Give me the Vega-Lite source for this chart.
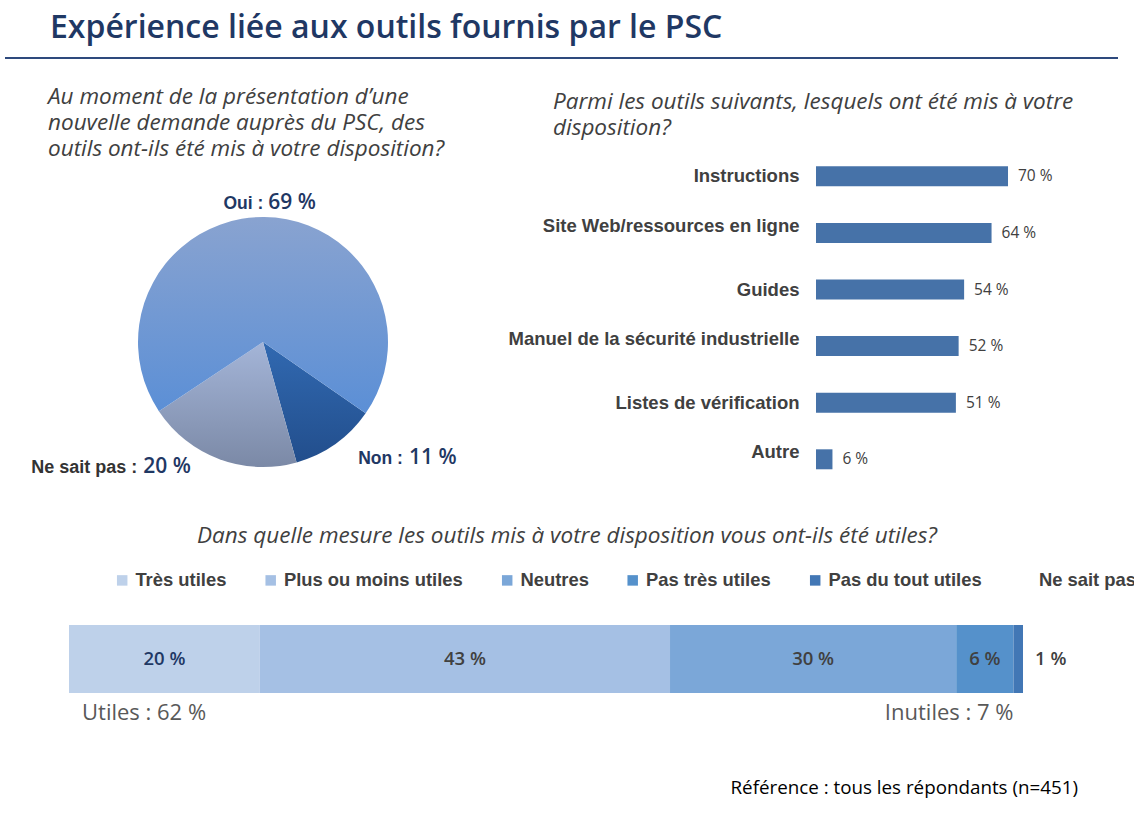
{
  "$schema": "https://vega.github.io/schema/vega-lite/v6.json",
  "padding": {"left": 0, "top": 12, "right": 0, "bottom": 0},
  "background": "white",
  "bounds": "flush",
  "align": "none",
  "columns": 2,
  "spacing": {"row": 89, "column": 290},
  "resolve": {"scale": {"color": "independent"}, "legend": {"color": "independent"}},
  "config": {"view": {"stroke": null}, "font": "Open Sans"},
  "concat": [
    {
      "width": 526,
      "height": 2,
      "title": {"text": "Expérience liée aux outils fournis par le PSC", "anchor": "start", "frame": "group", "dx": 50, "offset": 12, "fontSize": 32, "font": "Open Sans", "fontWeight": 600, "color": "#1F3864"},
      "data": {"values": [{}]},
      "mark": {"type": "rule", "color": "#2E4A7D", "strokeWidth": 2},
      "encoding": {
        "x": {"datum": 0, "type": "quantitative", "axis": null, "scale": {"domain": [0, 1], "range": [5, 1118], "nice": false}},
        "x2": {"datum": 1},
        "y": {"value": 1}
      }
    },
    {
      "width": 1,
      "height": 2,
      "data": {"values": [{}]},
      "mark": "text",
      "encoding": {"text": {"value": ""}}
    },
    {
      "width": 526,
      "height": 388,
      "title": {"text": ["Au moment de la présentation d’une", "nouvelle demande auprès du PSC, des", "outils ont-ils été mis à votre disposition?"], "anchor": "start", "frame": "group", "dx": 48, "offset": -12, "fontSize": 22.5, "font": "Open Sans", "fontStyle": "italic", "fontWeight": "normal", "color": "#404040", "lineHeight": 26},
      "data": {"values": [
        {"k": "Non", "v": 11, "i": 1, "n": "Non :", "p": "11 %"},
        {"k": "Ne sait pas", "v": 20, "i": 2, "n": "Ne sait pas :", "p": "20 %"},
        {"k": "Oui", "v": 69, "i": 3, "n": "Oui :", "p": "69 %"}
      ]},
      "transform": [{"stack": "v", "groupby": [], "sort": [{"field": "i", "order": "ascending"}], "as": ["v0", "v1"]}],
      "layer": [
        {
          "mark": {"type": "arc", "outerRadius": 125},
          "encoding": {
            "theta": {"field": "v0", "type": "quantitative", "stack": null, "scale": {"domain": [0, 100], "range": [2.178, 8.461]}},
            "theta2": {"field": "v1"},
            "fill": {
              "condition": [
                {"test": "datum.k === 'Oui'", "value": {"gradient": "linear", "x1": 0, "y1": 0, "x2": 0, "y2": 1, "stops": [{"offset": 0, "color": "#89A3D0"}, {"offset": 1, "color": "#5B8FD6"}]}},
                {"test": "datum.k === 'Non'", "value": {"gradient": "linear", "x1": 0, "y1": 0, "x2": 0, "y2": 1, "stops": [{"offset": 0, "color": "#3169B1"}, {"offset": 1, "color": "#224E8C"}]}}
              ],
              "value": {"gradient": "linear", "x1": 0, "y1": 0, "x2": 0, "y2": 1, "stops": [{"offset": 0, "color": "#A4B5D8"}, {"offset": 1, "color": "#7B89A6"}]}
            }
          }
        },
        {
          "transform": [{"fold": ["v0", "v1"], "as": ["w", "pos"]}, {"aggregate": [{"op": "mean", "field": "pos", "as": "mid"}], "groupby": ["k", "n", "p"]}, {"filter": "datum.k === 'Oui'"}],
          "mark": {"type": "text", "radius": 133, "align": "right", "baseline": "alphabetic", "dx": -1, "font": "Liberation Sans", "fontWeight": "bold", "fontSize": 17.5, "color": "#1F3864"},
          "encoding": {"theta": {"field": "mid", "type": "quantitative", "stack": null}, "text": {"field": "n"}}
        },
        {
          "transform": [{"fold": ["v0", "v1"], "as": ["w", "pos"]}, {"aggregate": [{"op": "mean", "field": "pos", "as": "mid"}], "groupby": ["k", "n", "p"]}, {"filter": "datum.k === 'Oui'"}],
          "mark": {"type": "text", "radius": 133, "align": "left", "baseline": "alphabetic", "dx": 4, "font": "Open Sans", "fontWeight": 600, "fontSize": 21, "color": "#1F3864"},
          "encoding": {"theta": {"field": "mid", "type": "quantitative", "stack": null}, "text": {"field": "p"}}
        },
        {
          "transform": [{"fold": ["v0", "v1"], "as": ["w", "pos"]}, {"aggregate": [{"op": "mean", "field": "pos", "as": "mid"}], "groupby": ["k", "n", "p"]}, {"filter": "datum.k === 'Non'"}],
          "mark": {"type": "text", "radius": 150, "align": "right", "baseline": "alphabetic", "dx": 53, "font": "Liberation Sans", "fontWeight": "bold", "fontSize": 17.5, "color": "#1F3864"},
          "encoding": {"theta": {"field": "mid", "type": "quantitative", "stack": null}, "text": {"field": "n"}}
        },
        {
          "transform": [{"fold": ["v0", "v1"], "as": ["w", "pos"]}, {"aggregate": [{"op": "mean", "field": "pos", "as": "mid"}], "groupby": ["k", "n", "p"]}, {"filter": "datum.k === 'Non'"}],
          "mark": {"type": "text", "radius": 150, "align": "left", "baseline": "alphabetic", "dx": 59, "font": "Open Sans", "fontWeight": 600, "fontSize": 21, "color": "#1F3864"},
          "encoding": {"theta": {"field": "mid", "type": "quantitative", "stack": null}, "text": {"field": "p"}}
        },
        {
          "transform": [{"fold": ["v0", "v1"], "as": ["w", "pos"]}, {"aggregate": [{"op": "mean", "field": "pos", "as": "mid"}], "groupby": ["k", "n", "p"]}, {"filter": "datum.k === 'Ne sait pas'"}],
          "mark": {"type": "text", "radius": 140, "align": "right", "baseline": "alphabetic", "dx": -77, "font": "Liberation Sans", "fontWeight": "bold", "fontSize": 18, "color": "#333333"},
          "encoding": {"theta": {"field": "mid", "type": "quantitative", "stack": null}, "text": {"field": "n"}}
        },
        {
          "transform": [{"fold": ["v0", "v1"], "as": ["w", "pos"]}, {"aggregate": [{"op": "mean", "field": "pos", "as": "mid"}], "groupby": ["k", "n", "p"]}, {"filter": "datum.k === 'Ne sait pas'"}],
          "mark": {"type": "text", "radius": 140, "align": "left", "baseline": "alphabetic", "dx": -71, "font": "Open Sans", "fontWeight": 600, "fontSize": 21, "color": "#1F3864"},
          "encoding": {"theta": {"field": "mid", "type": "quantitative", "stack": null}, "text": {"field": "p"}}
        }
      ]
    },
    {
      "width": 274.3,
      "height": 339.6,
      "title": {"text": ["Parmi les outils suivants, lesquels ont été mis à votre", "disposition?"], "anchor": "start", "frame": "group", "dx": -263, "offset": 9, "fontSize": 22.5, "font": "Open Sans", "fontStyle": "italic", "fontWeight": "normal", "color": "#404040", "lineHeight": 26},
      "data": {"values": [
        {"o": "Instructions", "v": 70, "t": "70 %"},
        {"o": "Site Web/ressources en ligne", "v": 64, "t": "64 %"},
        {"o": "Guides", "v": 54, "t": "54 %"},
        {"o": "Manuel de la sécurité industrielle", "v": 52, "t": "52 %"},
        {"o": "Listes de vérification", "v": 51, "t": "51 %"},
        {"o": "Autre", "v": 6, "t": "6 %"}
      ]},
      "encoding": {
        "y": {"field": "o", "type": "nominal", "sort": null, "scale": {"paddingInner": 0.647, "paddingOuter": 0.3235},
          "axis": {"title": null, "domain": false, "ticks": false, "labelFont": "Liberation Sans", "labelFontWeight": "bold", "labelFontSize": 18.5, "labelColor": "#404040", "labelPadding": 17, "labelLimit": 400,
            "labelOffset": {"condition": {"test": "indexof(['Site Web/ressources en ligne', 'Manuel de la sécurité industrielle', 'Autre'], datum.value) >= 0", "value": -7}, "value": 0}}},
        "x": {"field": "v", "type": "quantitative", "scale": {"domain": [0, 100], "nice": false}, "axis": null}
      },
      "layer": [
        {"mark": {"type": "bar", "color": "#4672A8"}},
        {"mark": {"type": "text", "align": "left", "baseline": "middle", "dx": 10, "font": "Open Sans", "fontSize": 15.5, "color": "#404040"}, "encoding": {"text": {"field": "t"}}}
      ]
    },
    {
      "width": 526,
      "height": 68,
      "title": {"text": "Dans quelle mesure les outils mis à votre disposition vous ont-ils été utiles?", "anchor": "middle", "frame": "group", "dx": 304, "offset": 24, "fontSize": 22.5, "font": "Open Sans", "fontStyle": "italic", "fontWeight": "normal", "color": "#404040"},
      "data": {"values": [
        {"c": "Très utiles", "v": 20, "i": 1, "t": "20 %"},
        {"c": "Plus ou moins utiles", "v": 43, "i": 2, "t": "43 %"},
        {"c": "Neutres", "v": 30, "i": 3, "t": "30 %"},
        {"c": "Pas très utiles", "v": 6, "i": 4, "t": "6 %"},
        {"c": "Pas du tout utiles", "v": 1, "i": 5, "t": "1 %"},
        {"c": "Ne sait pas", "v": 0, "i": 6, "t": ""}
      ]},
      "transform": [{"stack": "v", "groupby": [], "sort": [{"field": "i", "order": "ascending"}], "as": ["v0", "v1"]}],
      "encoding": {
        "y": {"datum": "u", "type": "nominal", "scale": {"paddingInner": 0, "paddingOuter": 0}, "axis": null}
      },
      "layer": [
        {
          "mark": {"type": "bar"},
          "encoding": {
            "x": {"field": "v0", "type": "quantitative", "scale": {"domain": [0, 100], "range": [69, 1023], "nice": false}, "axis": null},
            "x2": {"field": "v1"},
            "color": {"field": "c", "type": "nominal",
              "scale": {"domain": ["Très utiles", "Plus ou moins utiles", "Neutres", "Pas très utiles", "Pas du tout utiles", "Ne sait pas"], "range": ["#BED1EA", "#A5C0E4", "#7BA7D8", "#5591CB", "#4277B5", "#FFFFFF"]},
              "legend": {"orient": "none", "legendX": 113, "legendY": -54, "direction": "horizontal", "columns": 6, "title": null, "symbolType": "square", "symbolSize": 110, "symbolStrokeWidth": 0, "labelFont": "Liberation Sans", "labelFontWeight": "bold", "labelFontSize": 18.4, "labelColor": "#404040", "labelOffset": 4, "columnPadding": 34.5, "labelLimit": 300}}
          }
        },
        {
          "transform": [{"filter": "datum.i <= 4"}, {"fold": ["v0", "v1"], "as": ["w", "pos"]}, {"aggregate": [{"op": "mean", "field": "pos", "as": "mid"}], "groupby": ["c", "t"]}],
          "mark": {"type": "text", "align": "center", "baseline": "middle", "font": "Open Sans", "fontWeight": 600, "fontSize": 18.5},
          "encoding": {
            "x": {"field": "mid", "type": "quantitative"},
            "text": {"field": "t"},
            "color": {"condition": {"test": "datum.c === 'Très utiles'", "value": "#1F3864"}, "value": "#404040"}
          }
        },
        {
          "transform": [{"filter": "datum.c === 'Pas du tout utiles'"}],
          "mark": {"type": "text", "align": "left", "baseline": "middle", "dx": 12, "font": "Open Sans", "fontWeight": 600, "fontSize": 18.5, "color": "#404040"},
          "encoding": {"x": {"field": "v1", "type": "quantitative"}, "text": {"field": "t"}}
        },
        {
          "transform": [{"filter": "datum.i === 1"}],
          "mark": {"type": "text", "align": "left", "baseline": "middle", "dx": 13, "dy": 54, "font": "Open Sans", "fontSize": 22, "color": "#595959"},
          "encoding": {"x": {"datum": 0}, "text": {"value": "Utiles : 62 %"}}
        },
        {
          "transform": [{"filter": "datum.i === 1"}],
          "mark": {"type": "text", "align": "right", "baseline": "middle", "dy": 54, "font": "Open Sans", "fontSize": 22, "color": "#595959"},
          "encoding": {"x": {"datum": 99}, "text": {"value": "Inutiles : 7 %"}}
        },
        {
          "transform": [{"filter": "datum.i === 1"}],
          "mark": {"type": "text", "align": "right", "baseline": "middle", "dx": 55, "dy": 129, "font": "Open Sans", "fontSize": 18.8, "color": "#000000"},
          "encoding": {"x": {"datum": 100}, "text": {"value": "Référence : tous les répondants (n=451)"}}
        }
      ]
    }
  ]
}
